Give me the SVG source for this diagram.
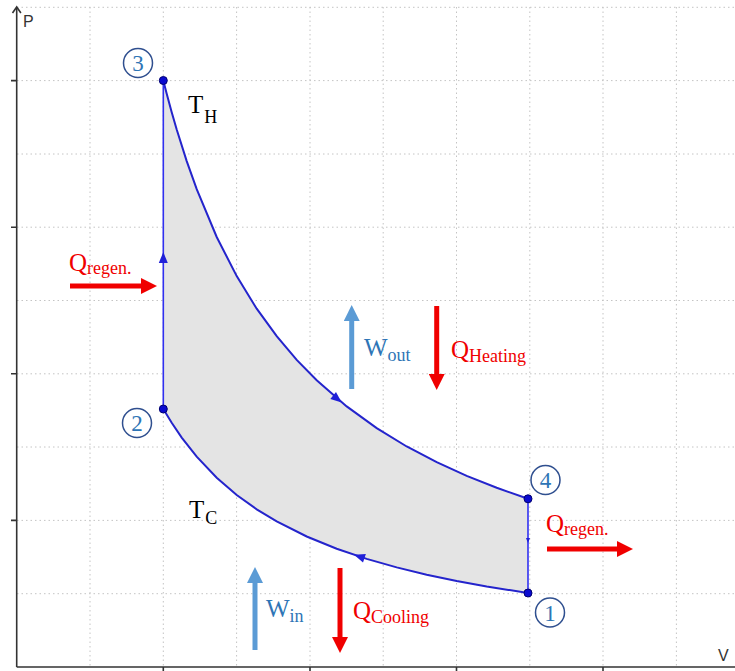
<svg xmlns="http://www.w3.org/2000/svg" width="735" height="671" viewBox="0 0 735 671">
<style>
.grid{stroke:#c4c4c4;stroke-width:1;stroke-dasharray:1.5 3;fill:none}
.axis{stroke:#333;stroke-width:1.6;fill:none}
.curve{stroke:#2424cc;stroke-width:2;fill:none}
.vert{stroke:#3030f0;stroke-width:1.6;fill:none}
.dot{fill:#0a0ad0;stroke:#000070;stroke-width:1}
.ring{fill:none;stroke:#2f4f8f;stroke-width:1.5}
.num{font-family:"Liberation Serif",serif;font-size:23px;fill:#2e75b6;text-anchor:middle}
.lbl{font-family:"Liberation Serif",serif;font-size:25px}
.red{fill:#f00000}
.blue{fill:#2e75b6}
.blk{fill:#000}
.sub{font-size:18px}
.ax{font-family:"Liberation Sans",sans-serif;font-size:16px;fill:#333}
.fr{stroke:#f00000;stroke-width:5;marker-end:url(#hr)}
.fb{stroke:#5b9bd5;stroke-width:5;marker-end:url(#hb)}
</style>
<defs>
<path id="ah" d="M0,0 L-11,-4.5 L-11,4.5 Z" fill="#2020d8"/>
<marker id="hr" markerUnits="userSpaceOnUse" markerWidth="16" markerHeight="16" viewBox="0 0 16 16" refX="0" refY="8" orient="auto"><path d="M0,0 L16,8 L0,16 Z" fill="#f00000"/></marker>
<marker id="hb" markerUnits="userSpaceOnUse" markerWidth="16" markerHeight="16" viewBox="0 0 16 16" refX="0" refY="8" orient="auto"><path d="M0,0 L16,8 L0,16 Z" fill="#5b9bd5"/></marker>
</defs>
<rect width="735" height="671" fill="#fff"/>
<g id="grid">
<path class="grid" d="M90,7 V667 M163.3,7 V667 M236.6,7 V667 M310,7 V667 M383.2,7 V667 M456.5,7 V667 M529.8,7 V667 M603,7 V667 M676.4,7 V667"/>
<path class="grid" d="M17,7.3 H735 M17,80.6 H735 M17,154 H735 M17,227.2 H735 M17,300.5 H735 M17,373.8 H735 M17,447 H735 M17,520.4 H735 M17,593.7 H735"/>
</g>
<g id="axes">
<path class="axis" d="M16.7,667 V8 M16.7,667 H735"/>
<path class="axis" d="M12.5,13 L16.7,7 L20.9,13"/>
<path class="axis" d="M11,80.6 H17 M11,227.2 H17 M11,373.8 H17 M11,520.4 H17 M163.3,667 V671 M310,667 V671 M456.5,667 V671 M603,667 V671"/>
<text class="ax" x="23" y="27">P</text>
<text class="ax" x="718" y="661">V</text>
</g>
<g id="cycle-area">
<path d="M163.3,80.5 L166.7,93.7 L171.7,112.2 L176.7,129.5 L186.7,161.1 L196.7,189.2 L216.7,237 L236.7,276.1 L256.7,308.7 L276.7,336.2 L296.7,359.9 L316.7,380.3 L346.7,406.4 L376.7,428.1 L406.7,446.5 L436.7,462.2 L466.7,475.9 L496.7,487.8 L528,498.8 L528,593 L486.7,586.5 L456.7,581 L426.7,574.7 L396.7,567.4 L366.7,558.9 L336.7,548.7 L306.7,536.5 L276.7,521.4 L256.7,509.3 L236.7,495 L216.7,477.7 L196.7,456.7 L181.7,437.6 L171.7,422.8 L163.3,409 Z" fill="#e4e4e4"/>
</g>
<g id="connectors">
<path id="iso-TH" class="curve" d="M163.3,80.5 L166.7,93.7 L171.7,112.2 L176.7,129.5 L186.7,161.1 L196.7,189.2 L216.7,237 L236.7,276.1 L256.7,308.7 L276.7,336.2 L296.7,359.9 L316.7,380.3 L346.7,406.4 L376.7,428.1 L406.7,446.5 L436.7,462.2 L466.7,475.9 L496.7,487.8 L528,498.8"/>
<path id="iso-TC" class="curve" d="M528,593 L486.7,586.5 L456.7,581 L426.7,574.7 L396.7,567.4 L366.7,558.9 L336.7,548.7 L306.7,536.5 L276.7,521.4 L256.7,509.3 L236.7,495 L216.7,477.7 L196.7,456.7 L181.7,437.6 L171.7,422.8 L163.3,409"/>
<path id="v-23" class="vert" d="M163.3,409 V80.5"/>
<path id="v-41" class="vert" d="M528,498.8 V593"/>
<use href="#ah" transform="translate(341.7,402.4) rotate(39)"/>
<use href="#ah" transform="translate(354,554.8) rotate(198.4)"/>
<use href="#ah" transform="translate(163.3,252) rotate(-90)"/>
<use href="#ah" transform="translate(528,543) rotate(90) scale(0.45)"/>
</g>
<g id="node-3">
<circle class="dot" cx="163.3" cy="80.5" r="4"/>
<circle class="ring" cx="138" cy="63" r="14.5"/>
<text class="num" x="138" y="71">3</text>
</g>
<g id="node-2">
<circle class="dot" cx="163.3" cy="409" r="4"/>
<circle class="ring" cx="137" cy="423" r="14.5"/>
<text class="num" x="137" y="431">2</text>
</g>
<g id="node-4">
<circle class="dot" cx="528" cy="498.8" r="4"/>
<circle class="ring" cx="545.5" cy="480" r="14.5"/>
<text class="num" x="545.5" y="488">4</text>
</g>
<g id="node-1">
<circle class="dot" cx="528" cy="593" r="4"/>
<circle class="ring" cx="550" cy="612.5" r="14.5"/>
<text class="num" x="550" y="620.5">1</text>
</g>
<g id="label-TH">
<text class="lbl blk" x="188" y="113" font-size="24">T<tspan font-size="18" dx="1" dy="10">H</tspan></text>
</g>
<g id="label-TC">
<text class="lbl blk" x="189" y="518" font-size="24">T<tspan font-size="18" dx="1" dy="6">C</tspan></text>
</g>
<g id="q-regen-in">
<line class="fr" x1="70" y1="286" x2="141" y2="286"/>
<text class="lbl red" x="69" y="271">Q<tspan class="sub" dy="3">regen.</tspan></text>
</g>
<g id="q-regen-out">
<line class="fr" x1="547" y1="549" x2="617" y2="549"/>
<text class="lbl red" x="546" y="532">Q<tspan class="sub" dy="3">regen.</tspan></text>
</g>
<g id="w-out">
<line class="fb" x1="351.7" y1="389" x2="351.7" y2="321"/>
<text class="lbl blue" x="364" y="356">W<tspan class="sub" dy="5">out</tspan></text>
</g>
<g id="q-heating">
<line class="fr" x1="436.7" y1="306" x2="436.7" y2="374"/>
<text class="lbl red" x="451" y="358">Q<tspan class="sub" dy="4">Heating</tspan></text>
</g>
<g id="w-in">
<line class="fb" x1="255" y1="650" x2="255" y2="583"/>
<text class="lbl blue" x="266" y="617">W<tspan class="sub" dy="5">in</tspan></text>
</g>
<g id="q-cooling">
<line class="fr" x1="340" y1="568" x2="340" y2="637"/>
<text class="lbl red" x="353" y="619">Q<tspan class="sub" dy="4">Cooling</tspan></text>
</g>
</svg>
